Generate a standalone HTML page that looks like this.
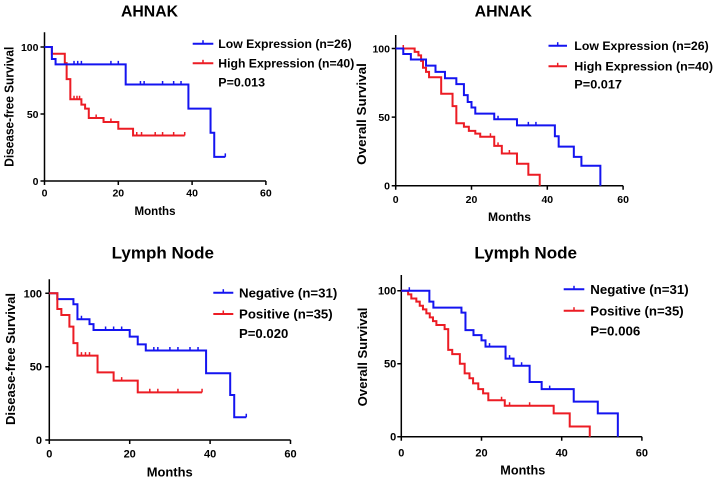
<!DOCTYPE html>
<html><head><meta charset="utf-8"><style>
body{margin:0;background:#fff}
svg{display:block}
text{font-family:"Liberation Sans",Arial,sans-serif;font-weight:bold;fill:#000}
.ax{stroke:#000;stroke-width:1.5;fill:none}
.s{fill:none;stroke-width:2;vector-effect:non-scaling-stroke;stroke-linejoin:miter}
.t{fill:none;stroke-width:1.5;vector-effect:non-scaling-stroke}
.b{stroke:#1414f0}
.r{stroke:#ec1c24}
</style></head><body>
<svg width="717" height="481" viewBox="0 0 717 481" xmlns="http://www.w3.org/2000/svg">
<rect width="717" height="481" fill="#fff"/>

<!-- ===== Panel 1 ===== -->
<text x="149.5" y="16.4" text-anchor="middle" font-size="16" textLength="57" lengthAdjust="spacingAndGlyphs">AHNAK</text>
<path class="ax" d="M44.5 32.3V181H266M40.5 181H44.5M40.5 114H44.5M40.5 47H44.5M44.5 181v4M118.3 181v4M192.1 181v4M265.9 181v4"/>
<g font-size="10.5">
<text x="38.5" y="50.8" text-anchor="end">100</text>
<text x="38.5" y="117.8" text-anchor="end">50</text>
<text x="38.5" y="184.8" text-anchor="end">0</text>
<text x="44.5" y="196.3" text-anchor="middle">0</text>
<text x="118.3" y="196.3" text-anchor="middle">20</text>
<text x="192.1" y="196.3" text-anchor="middle">40</text>
<text x="265.9" y="196.3" text-anchor="middle">60</text>
</g>
<text transform="translate(13.5 106.7) rotate(-90)" text-anchor="middle" font-size="12.5" textLength="120" lengthAdjust="spacingAndGlyphs">Disease-free Survival</text>
<text x="155" y="214.8" text-anchor="middle" font-size="12" textLength="41" lengthAdjust="spacingAndGlyphs">Months</text>
<g transform="translate(44.5 181) scale(3.69 -1.34)">
<path class="s r" d="M0 100H2V95H5.5V88H6V76H7V61H10V57H11V54H12V47H16V44H20V39H24V34H38"/>
<path class="t r" d="M8 61v2.6M8.8 61v2.6M9.5 61v2.6M14 47v2.6M18 44v2.6M25 34v2.6M26.3 34v2.6M30 34v2.6M32 34v2.6M35 34v2.6M38 34v2.6"/>
<path class="s b" d="M0 100H2V91H3V87H22V72H39V54H45V36H46V18H49"/>
<path class="t b" d="M8 87v2.6M9 87v2.6M10 87v2.6M18 87v2.6M20 87v2.6M26 72v2.6M27 72v2.6M32 72v2.6M35 72v2.6M37 72v2.6M49 18v2.6"/>
</g>
<path stroke="#1414f0" stroke-width="2" d="M192.7 43.7H213.3"/><path stroke="#1414f0" stroke-width="1.5" d="M203 43.7v-3.5"/>
<path stroke="#ec1c24" stroke-width="2" d="M192.7 63.3H213.3"/><path stroke="#ec1c24" stroke-width="1.5" d="M203 63.3v-3.5"/>
<g font-size="12.4">
<text x="218.3" y="48.1" textLength="133.4" lengthAdjust="spacingAndGlyphs">Low Expression (n=26)</text>
<text x="218.3" y="67.7" textLength="136" lengthAdjust="spacingAndGlyphs">High Expression (n=40)</text>
<text x="218.3" y="86.7" textLength="46.7" lengthAdjust="spacingAndGlyphs">P=0.013</text>
</g>

<!-- ===== Panel 2 ===== -->
<text x="503.3" y="16.7" text-anchor="middle" font-size="16" textLength="57.3" lengthAdjust="spacingAndGlyphs">AHNAK</text>
<path class="ax" d="M395.7 35V185.7H623.1M391.7 185.7H395.7M391.7 117.1H395.7M391.7 48.5H395.7M395.7 185.7v4M471.5 185.7v4M547.3 185.7v4M623.1 185.7v4"/>
<g font-size="10.5">
<text x="390" y="52.3" text-anchor="end">100</text>
<text x="390" y="120.9" text-anchor="end">50</text>
<text x="390" y="189.5" text-anchor="end">0</text>
<text x="395.7" y="202.8" text-anchor="middle">0</text>
<text x="471.5" y="202.8" text-anchor="middle">20</text>
<text x="547.3" y="202.8" text-anchor="middle">40</text>
<text x="623.1" y="202.8" text-anchor="middle">60</text>
</g>
<text transform="translate(366 114) rotate(-90)" text-anchor="middle" font-size="13" textLength="101.7" lengthAdjust="spacingAndGlyphs">Overall Survival</text>
<text x="509.5" y="220.8" text-anchor="middle" font-size="12" textLength="43" lengthAdjust="spacingAndGlyphs">Months</text>
<g transform="translate(395.7 185.7) scale(3.79 -1.372)">
<path class="s r" d="M0 100H5V97.5H6V95H6.7V91H7.2V86H8V83H8.8V79H12V67H15V58H16V45.5H18V43H19.3V40H21V38H22.3V35.7H26V29H28V23.5H32V16H35V8H38V0"/>
<path class="t r" d="M2 100v2.55M25 35.7v2.55M27 29v2.55M30 23.5v2.55"/>
<path class="s b" d="M0 100H2V96H4V92H8V87.5H10.5V83H13V78.3H16V74H18V66H19V61H20V57H21V52.5H26V48.4H32V44H42V36H43V28.5H47V21H49V14.5H54V0"/>
<path class="t b" d="M27 48.4v2.55M35 44v2.55M37 44v2.55"/>
</g>
<path stroke="#1414f0" stroke-width="2" d="M548.5 45.7H567"/><path stroke="#1414f0" stroke-width="1.5" d="M557.7 45.7v-3.5"/>
<path stroke="#ec1c24" stroke-width="2" d="M548.5 66.3H567"/><path stroke="#ec1c24" stroke-width="1.5" d="M557.7 66.3v-3.5"/>
<g font-size="12.4">
<text x="574.3" y="50.1" textLength="134.4" lengthAdjust="spacingAndGlyphs">Low Expression (n=26)</text>
<text x="574.3" y="70.7" textLength="138.7" lengthAdjust="spacingAndGlyphs">High Expression (n=40)</text>
<text x="574.3" y="88.4" textLength="47.7" lengthAdjust="spacingAndGlyphs">P=0.017</text>
</g>

<!-- ===== Panel 3 ===== -->
<text x="162.8" y="258.3" text-anchor="middle" font-size="17" textLength="102.3" lengthAdjust="spacingAndGlyphs">Lymph Node</text>
<path class="ax" d="M49.3 279.3V440H290.5M45.3 440H49.3M45.3 366.7H49.3M45.3 293.3H49.3M49.3 440v4M129.7 440v4M210.1 440v4M290.5 440v4"/>
<g font-size="11">
<text x="42" y="297.3" text-anchor="end">100</text>
<text x="42" y="370.7" text-anchor="end">50</text>
<text x="42" y="444" text-anchor="end">0</text>
<text x="49.3" y="457.3" text-anchor="middle">0</text>
<text x="129.7" y="457.3" text-anchor="middle">20</text>
<text x="210.1" y="457.3" text-anchor="middle">40</text>
<text x="290.5" y="457.3" text-anchor="middle">60</text>
</g>
<text transform="translate(15 359) rotate(-90)" text-anchor="middle" font-size="13" textLength="132" lengthAdjust="spacingAndGlyphs">Disease-free Survival</text>
<text x="169.7" y="476.3" text-anchor="middle" font-size="13" textLength="46" lengthAdjust="spacingAndGlyphs">Months</text>
<g transform="translate(49.3 440) scale(4.02 -1.467)">
<path class="s b" d="M0 100H2V96H6V92.5H7V82.3H10V79H11V75H20V70.5H22V65.2H24V61H39V45.5H45V30.7H46V15.5H49"/>
<path class="t b" d="M8 82.3v2.4M14 75v2.4M16 75v2.4M18 75v2.4M26 61v2.4M27 61v2.4M30 61v2.4M32 61v2.4M35 61v2.4M37 61v2.4M49 15.5v2.4"/>
<path class="s r" d="M0 100H2V89.3H3V85.2H5V77.3H6V66H7V57.5H12V46.1H16V40.5H22V32.5H38"/>
<path class="t r" d="M8 57.5v2.4M9 57.5v2.4M10 57.5v2.4M18 40.5v2.4M25 32.5v2.4M27 32.5v2.4M32 32.5v2.4M38 32.5v2.4"/>
</g>
<path stroke="#1414f0" stroke-width="2" d="M213.3 292.7H233.3"/><path stroke="#1414f0" stroke-width="1.5" d="M223.3 292.7v-3.5"/>
<path stroke="#ec1c24" stroke-width="2" d="M213.3 314H233.3"/><path stroke="#ec1c24" stroke-width="1.5" d="M223.3 314v-3.5"/>
<g font-size="13">
<text x="239" y="297.4" textLength="98.3" lengthAdjust="spacingAndGlyphs">Negative (n=31)</text>
<text x="239" y="318.7" textLength="93.7" lengthAdjust="spacingAndGlyphs">Positive (n=35)</text>
<text x="239" y="338" textLength="49.3" lengthAdjust="spacingAndGlyphs">P=0.020</text>
</g>

<!-- ===== Panel 4 ===== -->
<text x="525.7" y="258.3" text-anchor="middle" font-size="17" textLength="102.7" lengthAdjust="spacingAndGlyphs">Lymph Node</text>
<path class="ax" d="M401.3 275V436.7H641.9M397.3 436.7H401.3M397.3 363.7H401.3M397.3 290.7H401.3M401.3 436.7v4M481.5 436.7v4M561.7 436.7v4M641.9 436.7v4"/>
<g font-size="11">
<text x="396.3" y="294.7" text-anchor="end">100</text>
<text x="396.3" y="367.7" text-anchor="end">50</text>
<text x="396.3" y="440.7" text-anchor="end">0</text>
<text x="401.3" y="456.3" text-anchor="middle">0</text>
<text x="481.5" y="456.3" text-anchor="middle">20</text>
<text x="561.7" y="456.3" text-anchor="middle">40</text>
<text x="641.9" y="456.3" text-anchor="middle">60</text>
</g>
<text transform="translate(367 357) rotate(-90)" text-anchor="middle" font-size="13" textLength="98.7" lengthAdjust="spacingAndGlyphs">Overall Survival</text>
<text x="522.8" y="474.6" text-anchor="middle" font-size="13" textLength="45" lengthAdjust="spacingAndGlyphs">Months</text>
<g transform="translate(401.3 436.7) scale(4.01 -1.46)">
<path class="s r" d="M0 100H1.7V97.5H2.5V94.7H3.75V92.5H4.6V89.7H5.4V87.2H6.25V84.5H7.1V81.7H7.9V79.2H8.75V76.5H10.8V73.7H11.7V59.5H12.7V56.6H14.6V50H15.8V43.4H17V40H17.9V36.5H19.2V32.6H20.4V29.7H21.7V25H25.8V21.2H38V16H42V7H47V0"/>
<path class="t r" d="M25 25v2.4M27 21.2v2.4M32 21.2v2.4"/>
<path class="s b" d="M0 100H7V92.5H8V88.4H15V85H16V73H18V69.6H20V66H21V61.7H26V53.5H28V48.6H32V37.5H35V32.6H43V24H49V16H54V0"/>
<path class="t b" d="M2 100v2.4M22 61.7v2.4M27 53.5v2.4M30 48.6v2.4M37 32.6v2.4"/>
</g>
<path stroke="#1414f0" stroke-width="2" d="M563.7 289.3H584.3"/><path stroke="#1414f0" stroke-width="1.5" d="M574 289.3v-3.5"/>
<path stroke="#ec1c24" stroke-width="2" d="M563.7 310.7H584.3"/><path stroke="#ec1c24" stroke-width="1.5" d="M574 310.7v-3.5"/>
<g font-size="13">
<text x="590.3" y="294" textLength="98.4" lengthAdjust="spacingAndGlyphs">Negative (n=31)</text>
<text x="590.3" y="315.4" textLength="93.4" lengthAdjust="spacingAndGlyphs">Positive (n=35)</text>
<text x="590.3" y="335.7" textLength="50" lengthAdjust="spacingAndGlyphs">P=0.006</text>
</g>
</svg>
</body></html>
